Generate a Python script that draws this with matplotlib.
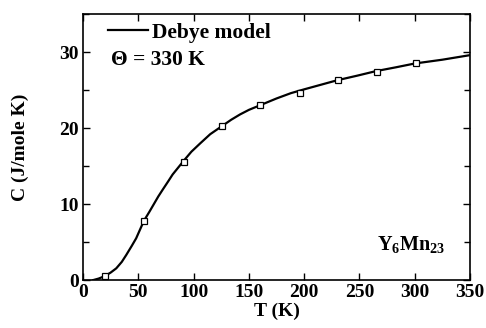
import matplotlib
matplotlib.use('Agg')
import matplotlib.pyplot as plt
from matplotlib.ticker import MultipleLocator

# Debye model curve
t_fit = [9, 14, 20, 25, 30, 35, 39, 44, 48, 55, 60, 64, 68, 72, 77, 81, 86, 91,
         98, 106, 115, 126, 134, 142, 150, 160, 175, 188, 200, 215, 230, 248,
         265, 283, 300, 325, 350]
c_fit = [0.0, 0.2, 0.55, 1.0, 1.55, 2.4, 3.3, 4.5, 5.5, 7.8, 9.0, 10.0, 11.0,
         11.9, 13.0, 13.9, 14.8, 15.7, 16.9, 18.0, 19.2, 20.3, 21.1, 21.8,
         22.4, 23.0, 23.9, 24.6, 25.1, 25.7, 26.3, 26.9, 27.5, 28.0, 28.5,
         29.0, 29.6]

# measured points
t_data = [20, 55, 91, 126, 160, 196, 231, 266, 301]
c_data = [0.5, 7.8, 15.6, 20.3, 23.0, 24.6, 26.3, 27.4, 28.6]

plt.rcParams['font.family'] = ['Liberation Serif', 'DejaVu Serif']
plt.rcParams['font.weight'] = 'bold'
plt.rcParams['mathtext.fontset'] = 'custom'
plt.rcParams['mathtext.rm'] = 'Liberation Serif:bold'
plt.rcParams['mathtext.bf'] = 'Liberation Serif:bold'

fig = plt.figure(figsize=(4.86, 3.28), dpi=100)
ax = fig.add_axes([0.171, 0.146, 0.796, 0.811])

ax.plot(t_fit, c_fit, color='black', lw=1.6, label='Debye model')
ax.plot(t_data, c_data, ls='none', marker='s', ms=4, mfc='white',
        mec='black', mew=0.9)

ax.set_xlim(0, 350)
ax.set_ylim(0, 35)
ax.xaxis.set_major_locator(MultipleLocator(50))
ax.yaxis.set_major_locator(MultipleLocator(10))
ax.yaxis.set_minor_locator(MultipleLocator(5))
ax.tick_params(which='both', direction='in', top=True, right=True,
               labelsize=14, pad=3, width=1)
ax.tick_params(which='major', length=5)
ax.tick_params(which='minor', length=4)
for lab in ax.get_xticklabels() + ax.get_yticklabels():
    lab.set_fontweight('bold')
for s in ax.spines.values():
    s.set_linewidth(1.2)

ax.set_xlabel('T (K)', fontsize=14, fontweight='bold', labelpad=1)
ax.set_ylabel('C (J/mole K)', fontsize=14, fontweight='bold', labelpad=22)

leg = ax.legend(loc='center left', frameon=False, fontsize=15.5,
                handlelength=1.85, handletextpad=0.2, borderpad=0,
                bbox_to_anchor=(0.065, 0.929), borderaxespad=0)
for txt in leg.get_texts():
    txt.set_fontweight('bold')
ax.text(0.072, 0.827, 'Θ = 330 K', transform=ax.transAxes, fontsize=15.5,
        fontweight='bold', va='center', ha='left')
ax.text(0.935, 0.13, r'Y$_{6}$Mn$_{23}$', transform=ax.transAxes,
        fontsize=14.5, fontweight='bold', ha='right', va='center')

fig.savefig('out.png', dpi=100)
